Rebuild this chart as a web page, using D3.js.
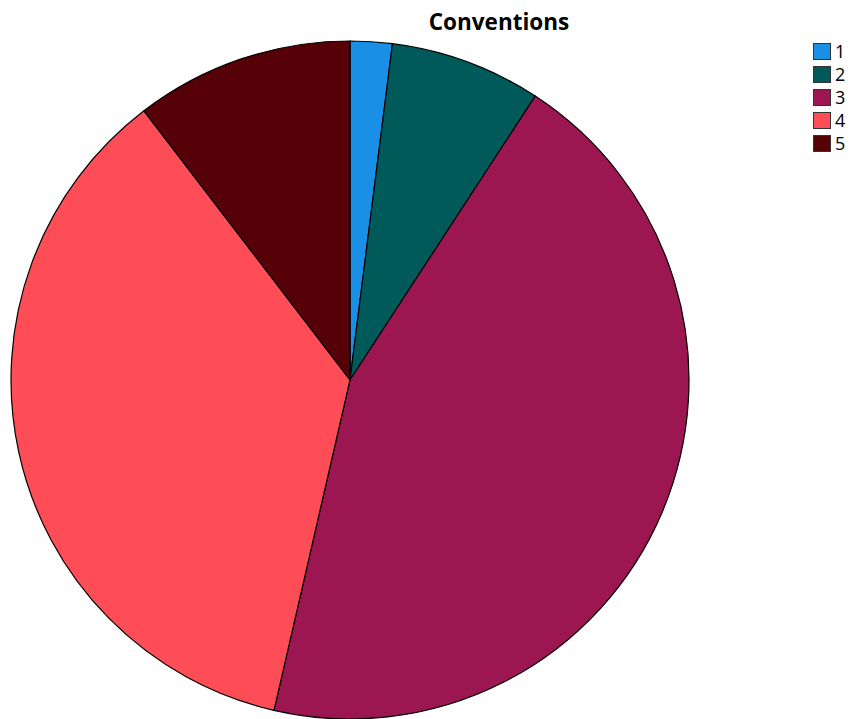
<!DOCTYPE html>
<html>
<head>
<meta charset="utf-8">
<script src="https://cdn.jsdelivr.net/npm/d3@7"></script>
<style>
  html, body { margin: 0; padding: 0; background: #fff; }
  svg { display: block; }
</style>
</head>
<body>
<svg id="chart" width="852" height="719"></svg>
<script>
const title = "Conventions";
const categories = ["1", "2", "3", "4", "5"];
const values = [5, 18, 111, 90, 26];
const colors = ["#1A8FE6", "#005A5A", "#9C1751", "#FF4D57", "#560008"];

const svg = d3.select("#chart");
const cx = 350, cy = 380, r = 339;

const pie = d3.pie().sort(null).value(d => d.value);
const data = categories.map((c, i) => ({ cat: c, value: values[i], color: colors[i] }));
const arc = d3.arc().innerRadius(0).outerRadius(r);

const g = svg.append("g").attr("transform", `translate(${cx},${cy})`);
g.selectAll("path")
  .data(pie(data))
  .join("path")
  .attr("d", arc)
  .attr("fill", d => d.data.color)
  .attr("stroke", "#000")
  .attr("stroke-width", 1.2)
  .attr("stroke-linejoin", "round");

svg.append("text")
  .attr("x", 499)
  .attr("y", 30)
  .attr("text-anchor", "middle")
  .attr("font-family", "'Open Sans', 'DejaVu Sans', sans-serif")
  .attr("font-weight", "bold")
  .attr("font-size", 22.5)
  .attr("fill", "#000")
  .text(title);

const leg = svg.append("g").attr("transform", "translate(813,43)");
const rows = leg.selectAll("g")
  .data(data)
  .join("g")
  .attr("transform", (d, i) => `translate(0,${i * 23})`);
rows.append("rect")
  .attr("x", 0.5).attr("y", 0.5)
  .attr("width", 17).attr("height", 16)
  .attr("fill", d => d.color)
  .attr("stroke", "#333")
  .attr("stroke-width", 1);
rows.append("text")
  .attr("x", 22)
  .attr("y", 15)
  .attr("font-family", "'Open Sans', 'DejaVu Sans', sans-serif")
  .attr("font-size", 18)
  .attr("fill", "#000")
  .text(d => d.cat);
</script>
</body>
</html>
